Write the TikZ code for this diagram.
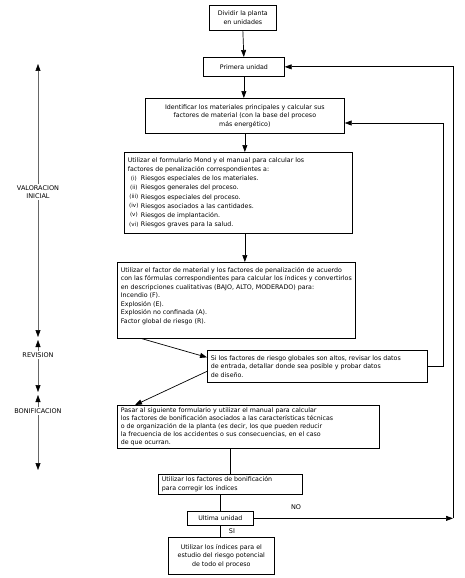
\documentclass[tikz,border=0pt]{standalone}
\usepackage{fontspec}
\setmainfont{DejaVu Sans}
\usetikzlibrary{arrows.meta}
\newcommand\fs{\fontsize{6.3}{8.5}\selectfont}
\newcommand\rn[1]{\makebox[12pt][c]{\raisebox{0.6pt}{\fontsize{5.6}{6}\selectfont(#1)}}\,}
\begin{document}
\begin{tikzpicture}[x=1pt,y=-1pt,
  box/.style={draw, line width=0.7pt, inner xsep=3.5pt, inner ysep=0pt, anchor=north west, font=\fs},
  arr/.style={line width=0.7pt, -{Triangle[length=7pt,width=5pt]}},
  ln/.style={line width=0.7pt},
  side/.style={draw=black!60, line width=0.5pt, -{Triangle[length=7pt,width=5pt,color=black]}},
  lab/.style={font=\fontsize{6.5}{7.5}\selectfont, inner sep=1.5pt}]
\useasboundingbox (0,0) rectangle (465,578);
% boxes
\node[box] (B1) at (209,5) {\parbox[c][25pt][c]{60pt}{\centering Dividir la planta\\en unidades}};
\node[box] (B2) at (203,57) {\parbox[c][19pt][c]{74pt}{\centering Primera unidad}};
\node[box] (B3) at (145,98) {\parbox[c][35pt][c]{192pt}{\centering Identificar los materiales principales y calcular sus\\factores de material (con la base del proceso\\más energético)}};
\node[box] (B4) at (124,152) {\parbox[c][81pt][c]{221pt}{\fontsize{6.3}{9.2}\selectfont\raggedright
Utilizar el formulario Mond y el manual para calcular los\\
factores de penalización correspondientes a:\\
\rn{i}Riesgos especiales de los materiales.\\
\rn{ii}Riesgos generales del proceso.\\
\rn{iii}Riesgos especiales del proceso.\\
\rn{iv}Riesgos asociados a las cantidades.\\
\rn{v}Riesgos de implantación.\\
\rn{vi}Riesgos graves para la salud.}};
\node[box] (B5) at (117,262) {\parbox[c][76pt][t]{231pt}{\raggedright\vspace*{5pt}
Utilizar el factor de material y los factores de penalización de acuerdo\\
con las fórmulas correspondientes para calcular los índices y convertirlos\\
en descripciones cualitativas (BAJO, ALTO, MODERADO) para:\\
Incendio (F).\\
Explosión (E).\\
Explosión no confinada (A).\\
Factor global de riesgo (R).}};
\node[box] (Rev) at (207,350) {\parbox[c][32pt][c]{213pt}{\raggedright
Si los factores de riesgo globales son altos, revisar los datos\\
de entrada, detallar donde sea posible y probar datos\\
de diseño.}};
\node[box] (B7) at (117,405) {\parbox[c][43pt][c]{255pt}{\fontsize{6.3}{7.8}\selectfont\raggedright
Pasar al siguiente formulario y utilizar el manual para calcular\\
los factores de bonificación asociados a las características técnicas\\
o de organización de la planta (es decir, los que pueden reducir\\
la frecuencia de los accidentes o sus consecuencias, en el caso\\
de que ocurran.}};
\node[box] (B8) at (158,474) {\parbox[c][20pt][c]{137pt}{\raggedright Utilizar los factores de bonificación\\para corregir los índices}};
\node[box] (B9) at (187,511) {\parbox[c][14pt][c]{59pt}{\centering Ultima unidad}};
\node[box] (B10) at (168,537) {\parbox[c][37pt][c]{99pt}{\centering Utilizar los índices para el\\estudio del riesgo potencial\\de todo el proceso}};
% main arrows
\draw[arr] (B1.south) -- (B2.north);
\draw[arr] (B2.south) -- (B2.south |- B3.north);
\draw[arr] (B3.south) -- (B3.south |- B4.north);
\draw[arr] (B3.south |- B4.south) -- (B3.south |- B5.north);
\draw[arr] ([xshift=25pt]B5.south west) -- ([yshift=9pt]Rev.west);
\draw[arr] ([yshift=-5pt]Rev.west) -- ([xshift=18pt]B7.north west);
\coordinate (r2) at (443,123);
\draw[arr] (Rev.east) -- (Rev.east -| r2) -- (r2) -- (r2 -| B3.east);
\draw[ln] (B7.south -| B8.north) -- (B8.north);
\draw[ln] (B9.north |- B8.south) -- (B9.north);
\draw[ln] (B9.south) -- (B9.south |- B10.north);
\coordinate (o1) at (453,518);
\draw[arr] (B9.east) -- (B9.east -| o1);
\draw[arr] (B9.east -| o1) -- (o1 |- B2.east) -- (B2.east);
\node[lab] (NO) at (296,507) {NO};
\node[lab] (SI) at (232,531) {SI};
% side annotations
\node[lab, align=center] (VAL) at (38,192) {VALORACION\\INICIAL};
\node[lab] (REV) at (38,355) {REVISION};
\node[lab] (BON) at (38,411) {BONIFICACION};
\coordinate (t0) at (38,64);
\coordinate (t1) at (38,337);
\coordinate (t2) at (38,340);
\coordinate (t3) at (38,392);
\coordinate (t4) at (38,395);
\coordinate (t5) at (38,470);
\draw[side] (VAL.north) -- (t0);
\draw[side] (VAL.south) -- (t1);
\draw[side] (REV.north) -- (t2);
\draw[side] (REV.south) -- (t3);
\draw[side] (BON.north) -- (t4);
\draw[side] (BON.south) -- (t5);
\end{tikzpicture}
\end{document}
